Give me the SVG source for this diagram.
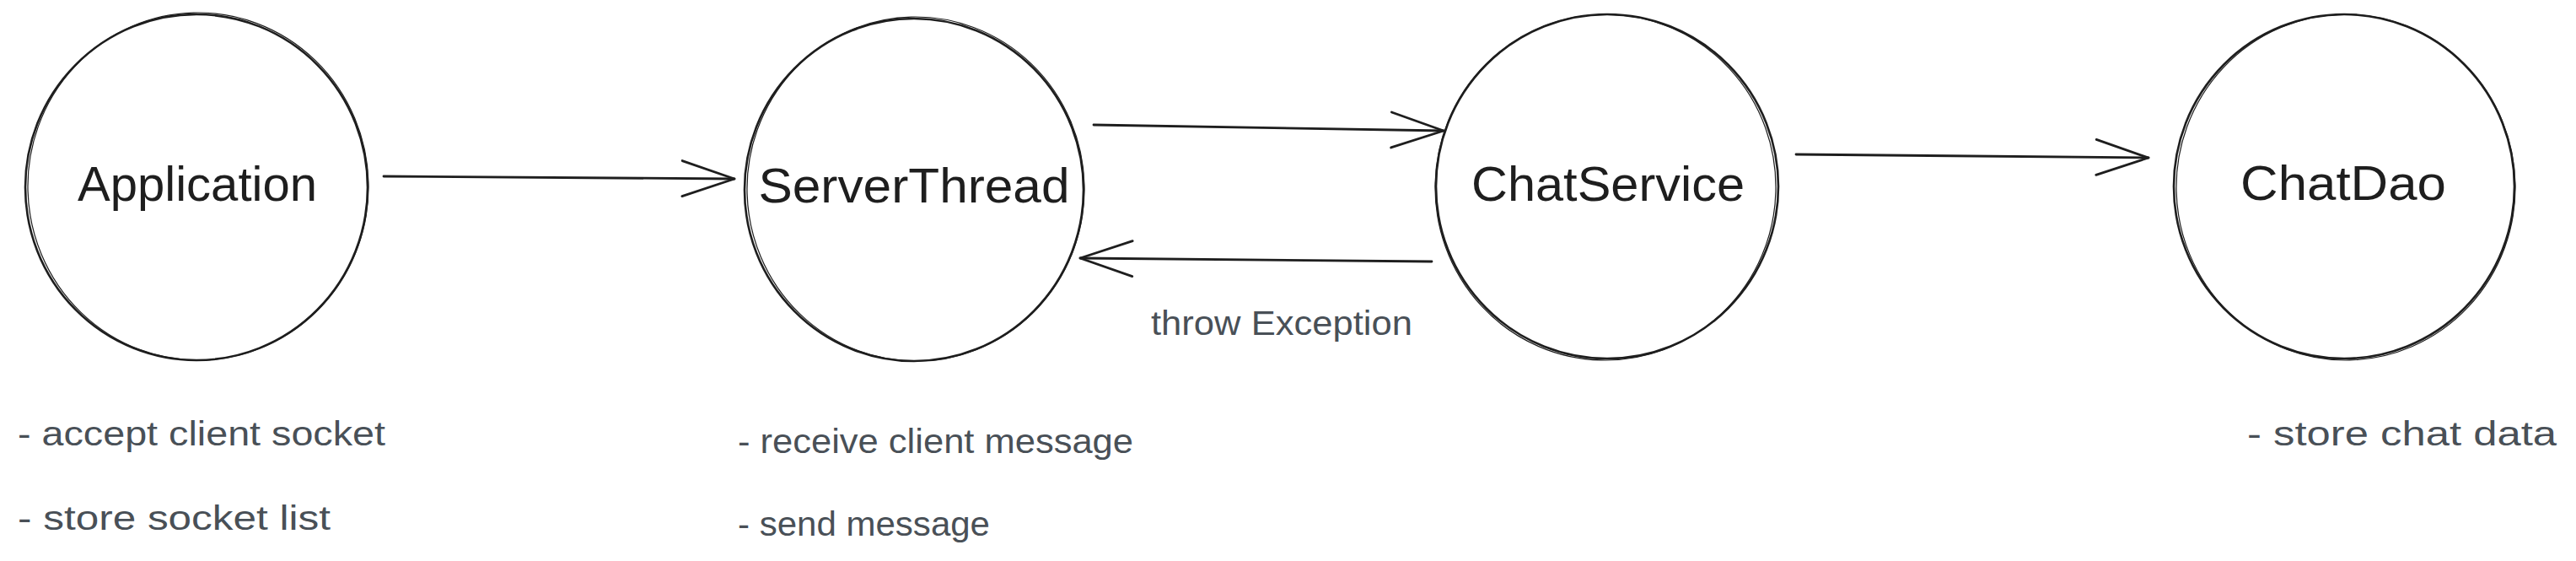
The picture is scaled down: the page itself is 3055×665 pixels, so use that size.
<svg xmlns="http://www.w3.org/2000/svg" width="3055" height="665" viewBox="0 0 3055 665">
<defs>
<style>
.node-shape{fill:none;stroke:#1e1e1e;stroke-width:2.6}
.node-sketch{fill:none;stroke:#1e1e1e;stroke-width:1.2}
.node-label{font-family:"Liberation Sans",Arial,sans-serif;font-size:58px;fill:#1e1e1e;text-anchor:middle}
.note{font-family:"Liberation Sans",Arial,sans-serif;font-size:40px;fill:#495057}
.edge{fill:none;stroke:#1e1e1e;stroke-width:2.8;stroke-linecap:round}
</style>
<marker id="arrow" markerUnits="userSpaceOnUse" viewBox="-70 -26 76 52" refX="0" refY="0" markerWidth="76" markerHeight="52" orient="auto" overflow="visible">
<path d="M -62 -21 L 0 0 L -62 21" fill="none" stroke="#1e1e1e" stroke-width="2.8" stroke-linecap="round" stroke-linejoin="round"/>
</marker>
</defs>
<rect width="3055" height="665" fill="#ffffff"/>
<g id="node-application">
<ellipse class="node-shape" cx="233" cy="222" rx="203" ry="205"/>
<ellipse class="node-sketch" cx="235" cy="221" rx="202" ry="206" transform="rotate(-1.5 235 221)"/>
<text class="node-label" x="234" y="238" textLength="284" lengthAdjust="spacingAndGlyphs">Application</text>
</g>
<g id="node-serverthread">
<ellipse class="node-shape" cx="1084" cy="225" rx="201" ry="203"/>
<ellipse class="node-sketch" cx="1086" cy="224" rx="200" ry="204" transform="rotate(-1.5 1086 224)"/>
<text class="node-label" x="1084" y="240" textLength="369" lengthAdjust="spacingAndGlyphs">ServerThread</text>
</g>
<g id="node-chatservice">
<ellipse class="node-shape" cx="1906" cy="221" rx="203" ry="204"/>
<ellipse class="node-sketch" cx="1904" cy="222" rx="202" ry="205" transform="rotate(1.5 1904 222)"/>
<text class="node-label" x="1907" y="238" textLength="324" lengthAdjust="spacingAndGlyphs">ChatService</text>
</g>
<g id="node-chatdao">
<ellipse class="node-shape" cx="2780" cy="221" rx="202" ry="204"/>
<ellipse class="node-sketch" cx="2782" cy="222" rx="201" ry="205" transform="rotate(-1.2 2782 222)"/>
<text class="node-label" x="2779" y="237" textLength="244" lengthAdjust="spacingAndGlyphs">ChatDao</text>
</g>
<g id="connectors">
<line class="edge" x1="455" y1="209" x2="871" y2="212" marker-end="url(#arrow)"/>
<line class="edge" x1="1297" y1="148" x2="1712" y2="155" marker-end="url(#arrow)"/>
<line class="edge" x1="1698" y1="310" x2="1281" y2="306" marker-end="url(#arrow)"/>
<line class="edge" x1="2130" y1="183" x2="2548" y2="187" marker-end="url(#arrow)"/>
</g>
<g id="labels">
<text class="note" x="1365" y="397" textLength="310" lengthAdjust="spacingAndGlyphs">throw Exception</text>
<text class="note" x="21" y="528" textLength="436" lengthAdjust="spacingAndGlyphs">- accept client socket</text>
<text class="note" x="21" y="628" textLength="371" lengthAdjust="spacingAndGlyphs">- store socket list</text>
<text class="note" x="875" y="537" textLength="469" lengthAdjust="spacingAndGlyphs">- receive client message</text>
<text class="note" x="875" y="635" textLength="299" lengthAdjust="spacingAndGlyphs">- send message</text>
<text class="note" x="2665" y="528" textLength="367" lengthAdjust="spacingAndGlyphs">- store chat data</text>
</g>
</svg>
